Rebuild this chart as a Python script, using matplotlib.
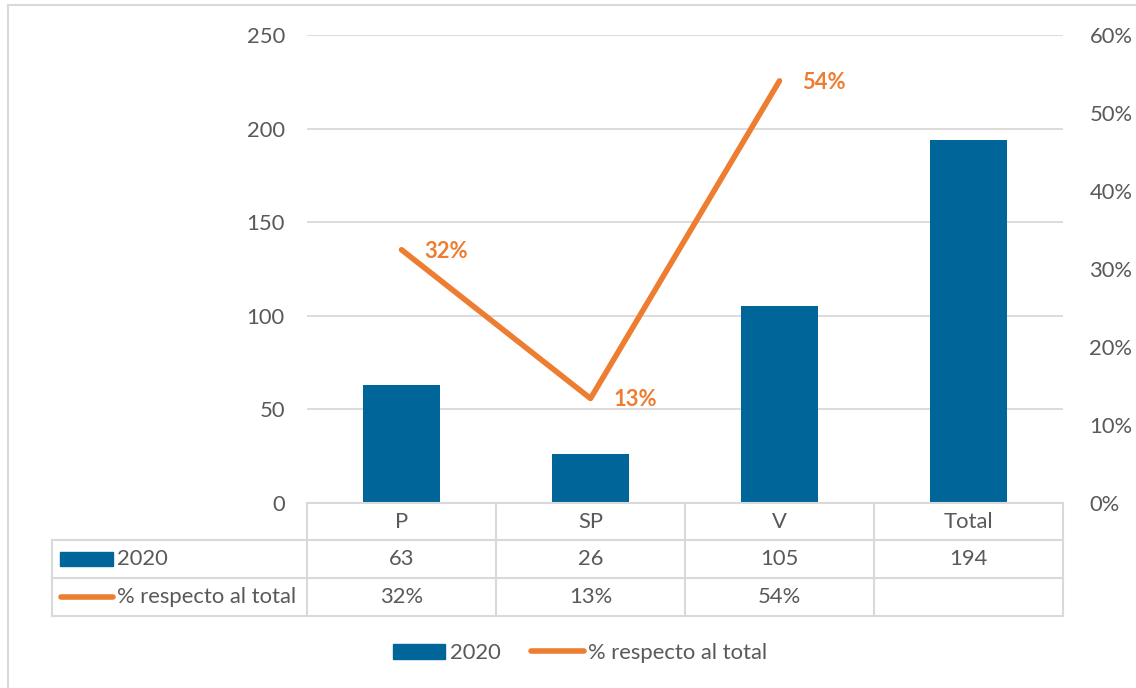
import matplotlib
matplotlib.use("Agg")
import matplotlib.pyplot as plt
from matplotlib.patches import Rectangle
from matplotlib.lines import Line2D

categories = ["P", "SP", "V", "Total"]
values_2020 = [63, 26, 105, 194]
pct_categories = ["P", "SP", "V"]
pct_total = [0.3247, 0.134, 0.5412]
pct_labels = ["32%", "13%", "54%"]
left_ticks = [0, 50, 100, 150, 200, 250]
right_ticks = [0.0, 0.1, 0.2, 0.3, 0.4, 0.5, 0.6]
series_names = ["2020", "% respecto al total"]

BLUE = "#00669A"
ORANGE = "#ED7D31"
GRID = "#D9D9D9"
TXT = "#595959"
FONT = ["Lato", "DejaVu Sans"]
FS = 15.8

W, H = 1136, 688
fig = plt.figure(figsize=(W / 100, H / 100), dpi=100)
plt.rcParams['font.family'] = FONT

def fx(px):
    return px / W

def fy(py):
    return 1 - py / H

# outer frame
fig.add_artist(Line2D([fx(8), 1.0], [fy(5), fy(5)], color=GRID, lw=1.5, transform=fig.transFigure))
fig.add_artist(Line2D([fx(8), fx(8)], [fy(5), 0.0], color=GRID, lw=1.5, transform=fig.transFigure))

L, R, T, B = 307, 1063, 35, 503
ax = fig.add_axes([fx(L), fy(B), fx(R) - fx(L), fy(T) - fy(B)])
ax2 = ax.twinx()

x = list(range(len(categories)))
ax.bar(x, values_2020, width=0.41, color=BLUE, zorder=3)
ax.set_xlim(-0.5, len(categories) - 0.5)
ax.set_ylim(0, 250)
ax.set_yticks(left_ticks)
ax.set_yticklabels([str(v) for v in left_ticks])
ax.yaxis.grid(True, color=GRID, lw=1.3, zorder=0)
ax.set_axisbelow(True)
ax.set_xticks([])
for s in ax.spines.values():
    s.set_visible(False)
ax.tick_params(axis="y", length=0, pad=16, labelsize=FS, labelcolor=TXT)

xp = [categories.index(c) for c in pct_categories]
ax2.plot(xp, pct_total, color=ORANGE, lw=4.0, solid_capstyle="round", zorder=4)
ax2.set_ylim(0, 0.6)
ax2.set_yticks(right_ticks)
ax2.set_yticklabels([f"{int(round(v * 100))}%" for v in right_ticks])
for s in ax2.spines.values():
    s.set_visible(False)
ax2.tick_params(axis="y", length=0, pad=19, labelsize=FS, labelcolor=TXT)
for xi, v, lab in zip(xp, pct_total, pct_labels):
    ax2.annotate(lab, (xi, v), xytext=(16.5, -1), textcoords="offset points",
                 color=ORANGE, fontsize=FS, fontweight="bold", va="center", ha="left")

# data table
col_w = (R - L) / len(categories)
rows_y = [503, 540, 578, 616]
tl = 52
lc = dict(color=GRID, lw=1.5, transform=fig.transFigure)
fig.add_artist(Line2D([fx(L), fx(R)], [fy(rows_y[0])] * 2, **lc))
for yy in rows_y[1:]:
    fig.add_artist(Line2D([fx(tl), fx(R)], [fy(yy)] * 2, **lc))
fig.add_artist(Line2D([fx(tl), fx(tl)], [fy(rows_y[1]), fy(rows_y[3])], **lc))
for i in range(len(categories) + 1):
    xx = L + i * col_w
    fig.add_artist(Line2D([fx(xx), fx(xx)], [fy(rows_y[0]), fy(rows_y[3])], **lc))

def cell_text(i, r, s):
    xc = L + (i + 0.5) * col_w
    yc = (rows_y[r] + rows_y[r + 1]) / 2
    fig.text(fx(xc), fy(yc), s, ha="center", va="center", fontsize=FS, color=TXT)

for i, c in enumerate(categories):
    cell_text(i, 0, c)
for i, v in enumerate(values_2020):
    cell_text(i, 1, str(v))
for i, lab in enumerate(pct_labels):
    cell_text(i, 2, lab)

# row headers
y1 = (rows_y[1] + rows_y[2]) / 2
fig.add_artist(Rectangle((fx(60), fy(y1 + 7)), fx(113) - fx(60), fy(y1 - 7) - fy(y1 + 7),
                         color=BLUE, transform=fig.transFigure))
fig.text(fx(117), fy(y1), series_names[0], ha="left", va="center", fontsize=FS, color=TXT)
y2 = (rows_y[2] + rows_y[3]) / 2
fig.add_artist(Line2D([fx(61), fx(113)], [fy(y2)] * 2, color=ORANGE, lw=4.0,
                      solid_capstyle="round", transform=fig.transFigure))
fig.text(fx(117), fy(y2), series_names[1], ha="left", va="center", fontsize=FS, color=TXT)

# legend
handles = [Rectangle((0, 0), 1, 1, color=BLUE),
           Line2D([0], [0], color=ORANGE, lw=4.0, solid_capstyle="round")]
fig.legend(handles, series_names, loc="center", bbox_to_anchor=(fx(580), fy(653)),
           ncol=2, frameon=False, fontsize=FS, labelcolor=TXT,
           handlelength=2.4, handleheight=0.65, handletextpad=0.2, columnspacing=1.4)

fig.savefig("out.png", dpi=100, facecolor="white")
